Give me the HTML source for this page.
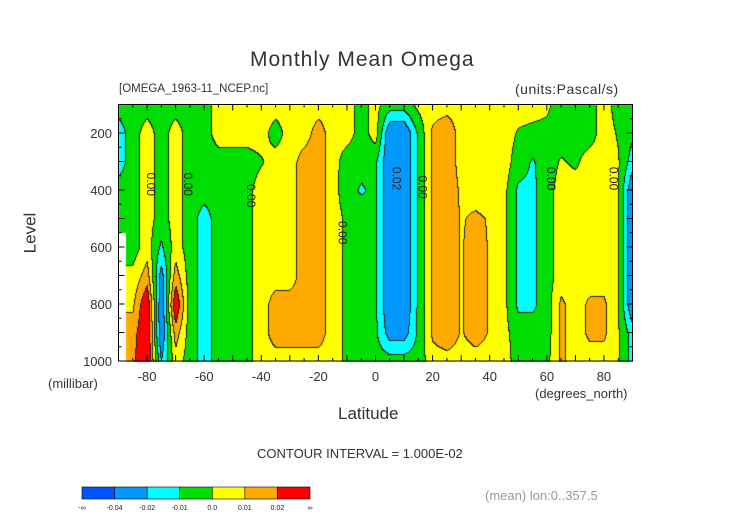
<!DOCTYPE html>
<html><head><meta charset="utf-8">
<style>
body{margin:0;background:#fff;width:752px;height:532px;overflow:hidden;position:relative;font-family:"Liberation Sans",sans-serif;color:#222}
.t{position:absolute;white-space:nowrap}
canvas{position:absolute;left:0;top:0}
svg{position:absolute;left:0;top:0}
</style></head><body>
<div class="t" style="left:250px;top:48px;font-size:21px;letter-spacing:1px;color:#333">Monthly Mean Omega</div>
<div class="t" style="left:119px;top:83px;font-size:11.5px;color:#333">[OMEGA_1963-11_NCEP.nc]</div>
<div class="t" style="left:515px;top:81px;font-size:14px;letter-spacing:.5px;color:#333">(units:Pascal/s)</div>
<div class="t" style="left:10px;top:223px;font-size:17px;transform:rotate(-90deg);color:#333">Level</div>
<div class="t" style="left:48px;top:376px;font-size:13px;color:#333">(millibar)</div>
<div class="t" style="left:338px;top:404px;font-size:17px;color:#333">Latitude</div>
<div class="t" style="left:535px;top:386px;font-size:13px;color:#333">(degrees_north)</div>
<div class="t" style="left:257px;top:446px;font-size:13px;color:#333">CONTOUR INTERVAL = 1.000E-02</div>
<div class="t" style="left:485px;top:488px;font-size:13px;color:#999">(mean) lon:0..357.5</div>
<canvas id="cv" width="752" height="532"></canvas>
<svg id="sv" width="752" height="532"></svg>
<script>
// Omega values in 1e-3 Pa/s; columns are latitudes -90..90 step 5; null = missing
const lats=[-90,-85,-80,-75,-70,-65,-60,-55,-50,-45,-40,-35,-30,-25,-20,-15,-10,-5,0,5,10,15,20,25,30,35,40,45,50,55,60,65,70,75,80,85,90];
const levels=[100,200,300,400,500,600,700,800,900,1000];
const lev100=[-5,-5,-5,-5,-5,-5,-5,5,5,5,5,5,5,5,5,5,3,-3,3,-5,-5,3,5,5,5,5,5,5,5,5,2,-5,-5,-5,5,-5,-5];
const lev200=[-15,-5,5,-5,5,-5,-5,5,5,5,5,-5,5,5,15,5,5,-5,5,-30,-30,-8,12,18,5,5,5,5,-1,-3,-3,-5,-5,-5,5,-1,-8];
const lev300=[-15,-5,5,-5,5,-5,-5,-5,-5,-5,-1,5,5,15,15,5,-6,-7,-8,-30,-30,-8,12,18,5,5,5,5,-5,-11,-5,1,-2,5,5,1,-15];
const lev400=[-5,-5,5,-5,5,-5,-5,-5,-5,-3,5,5,5,15,15,5,-7,-11,-8,-30,-30,-8,12,18,8,5,5,3,-12,-12,-5,5,5,5,5,1,-30];
const lev500=[-5,-5,5,-5,5,-5,-15,-5,-5,-3,5,5,5,15,15,5,-2,-5,-8,-30,-30,-8,12,18,9,12,9,3,-12,-12,-5,5,5,5,5,1,-30];
const lev600=[null,-5,5,-12,5,-5,-15,-5,-5,-3,5,5,5,15,15,5,-2,-5,-8,-30,-30,-8,12,18,9,15,9,3,-12,-12,-5,5,5,5,5,1,-30];
const lev700=[null,3,15,-25,15,-5,-15,-5,-5,-3,5,5,5,15,15,5,-2,-5,-8,-30,-30,-8,12,18,9,15,9,3,-12,-12,-5,5,5,5,5,1,-30];
const lev800=[null,8,30,-30,30,-5,-15,-5,-5,-3,5,15,15,15,15,5,-2,-5,-8,-30,-30,-8,12,18,9,15,9,3,-12,-12,-5,12,5,12,12,1,-30];
const lev900=[null,15,32,-30,15,-5,-15,-5,-5,-3,5,15,15,15,15,5,-2,-5,-8,-25,-25,-8,12,18,9,15,9,3,-5,-5,-5,12,5,12,12,1,-15];
const lev1000=[null,18,32,-20,5,-5,-15,-5,-5,-3,5,5,5,5,5,5,-2,-5,-5,-5,-5,-5,5,5,5,5,5,5,-5,-5,-3,12,5,5,5,1,-15];
const grid=[lev100,lev200,lev300,lev400,lev500,lev600,lev700,lev800,lev900,lev1000];
const boundaries=[-40,-20,-10,0,10,20];
const colors=["#0055ff","#0099ff","#00ffff","#00dd00","#ffff00","#ffaa00","#ff0000"];
const cbLabels=["-\u221e","-0.04","-0.02","-0.01","0.0","0.01","0.02","\u221e"];
const xTicks=[-80,-60,-40,-20,0,20,40,60,80];
const yTicks=[200,400,600,800,1000];

const X0=118.5,X1=632.5,Y0=104.5,Y1=361;
const xs=lat=>X0+(lat+90)/180*(X1-X0);
const ys=lev=>Y0+(lev-100)/900*(Y1-Y0);
function val(r,c){let v=grid[r][c];let k=c;while(v===null&&k<lats.length-1){k++;v=grid[r][k];}return v;}
function cls(v){let i=0;while(i<boundaries.length&&v>=boundaries[i])i++;return i;}
const cv=document.getElementById('cv'),ctx=cv.getContext('2d');
const W=Math.round(X1-X0),H=Math.round(Y1-Y0);
const img=ctx.createImageData(W,H);
const C=[];const rgb=colors.map(h=>[parseInt(h.substr(1,2),16),parseInt(h.substr(3,2),16),parseInt(h.substr(5,2),16)]);
for(let py=0;py<H;py++){C[py]=[];for(let px=0;px<W;px++){
  const lat=-90+(px+0.5)/W*180,lev=100+(py+0.5)/H*900;
  let fc=(lat-lats[0])/5,fr=(lev-levels[0])/100;
  let c0=Math.min(Math.floor(fc),lats.length-2),r0=Math.min(Math.floor(fr),levels.length-2);
  let tx=fc-c0,ty=fr-r0;
  const nc=tx<0.5?c0:c0+1,nr=ty<0.5?r0:r0+1;
  if(grid[nr][nc]===null){C[py][px]=-1;continue;}
  const v=(1-tx)*(1-ty)*val(r0,c0)+tx*(1-ty)*val(r0,c0+1)+(1-tx)*ty*val(r0+1,c0)+tx*ty*val(r0+1,c0+1);
  C[py][px]=cls(v);
}}
for(let py=0;py<H;py++)for(let px=0;px<W;px++){
  const k=C[py][px];const o=(py*W+px)*4;
  let col=k<0?[255,255,255]:rgb[k];
  if(k>=0&&((px+1<W&&C[py][px+1]>=0&&C[py][px+1]!==k)||(py+1<H&&C[py+1][px]>=0&&C[py+1][px]!==k)))col=[30,30,30];
  img.data[o]=col[0];img.data[o+1]=col[1];img.data[o+2]=col[2];img.data[o+3]=255;
}
ctx.putImageData(img,Math.round(X0),Math.round(Y0));

const sv=document.getElementById('sv');const NS='http://www.w3.org/2000/svg';
function mk(t,a,txt){const e=document.createElementNS(NS,t);for(const k in a)e.setAttribute(k,a[k]);if(txt!==undefined)e.textContent=txt;sv.appendChild(e);return e;}
let fr=mk('rect',{x:X0,y:Y0,width:X1-X0,height:Y1-Y0,fill:'none',stroke:'#000','stroke-width':1});


for(let l=-90;l<=90;l+=5){const x=xs(l),len=l%10===0?6:3;
  mk('line',{x1:x,x2:x,y1:Y1,y2:Y1-len,stroke:'#000'});mk('line',{x1:x,x2:x,y1:Y0,y2:Y0+len,stroke:'#000'});}
for(let v=100;v<=1000;v+=50){const y=ys(v),len=v%100===0?6:3;
  mk('line',{x1:X0,x2:X0+len,y1:y,y2:y,stroke:'#000'});mk('line',{x1:X1,x2:X1-len,y1:y,y2:y,stroke:'#000'});}
xTicks.forEach(l=>{const e=mk('text',{x:xs(l),y:Y1+20,'text-anchor':'middle','font-size':13,fill:'#333','font-family':'Liberation Sans'},String(l));
  
  });
yTicks.forEach(v=>{const e=mk('text',{x:112,y:ys(v)+5,'text-anchor':'end','font-size':13,fill:'#333','font-family':'Liberation Sans'},String(v));
  
  });
const labs=[[-80,380,'0.00'],[-67,380,'0.00'],[-45,420,'0.00'],[-13,550,'0.00'],[6,360,'0.02'],[15,390,'0.00'],[60,360,'0.00'],[82,360,'0.00']];
labs.forEach(a=>{const x=xs(a[0]),y=ys(a[1]);const e=mk('text',{x:x,y:y,'text-anchor':'middle','font-size':12,fill:'#222','font-family':'Liberation Sans',transform:`rotate(90 ${x} ${y})`},a[2]);
  
  });
const cbx=82,cbw=(310-82)/colors.length;
colors.forEach((c,i)=>{const e=mk('rect',{x:cbx+i*cbw,y:487,width:cbw,height:12,fill:c,stroke:'#000','stroke-width':0.6});
  
  });
cbLabels.forEach((t,i)=>{const e=mk('text',{x:cbx+i*cbw,y:510,'text-anchor':'middle','font-size':7,fill:'#222','font-family':'Liberation Sans'},t);
  
  });
</script>
</body></html>
